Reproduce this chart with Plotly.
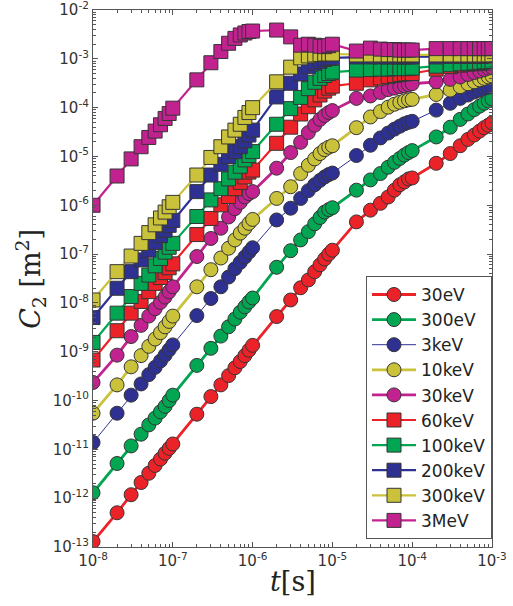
import plotly.graph_objects as go

# time points [s]
t = [1e-8, 2e-8, 3e-8, 4e-8, 5e-8, 6e-8, 7e-8, 8e-8, 9e-8,
     1e-7, 2e-7, 3e-7, 4e-7, 5e-7, 6e-7, 7e-7, 8e-7, 9e-7,
     1e-6, 2e-6, 3e-6, 4e-6, 5e-6, 6e-6, 7e-6, 8e-6, 9e-6,
     1e-5, 2e-5, 3e-5, 4e-5, 5e-5, 6e-5, 7e-5, 8e-5, 9e-5,
     1e-4, 2e-4, 3e-4, 4e-4, 5e-4, 6e-4, 7e-4, 8e-4, 9e-4,
     1e-3]

labels = ["30eV", "300eV", "3keV", "10keV", "30keV",
          "60keV", "100keV", "200keV", "300keV", "3MeV"]

# log10 of C2 [m^2]
lg_30eV = [-12.89, -12.30, -11.93, -11.68, -11.49, -11.33, -11.20, -11.08, -10.98,
           -10.89, -10.28, -9.92, -9.68, -9.49, -9.33, -9.20, -9.08, -8.97,
           -8.87, -8.28, -7.94, -7.69, -7.53, -7.36, -7.22, -7.10, -7.00,
           -6.92, -6.34, -6.10, -5.96, -5.83, -5.69, -5.58, -5.52, -5.46,
           -5.44, -5.14, -4.94, -4.78, -4.65, -4.56, -4.48, -4.41, -4.36,
           -4.31]
lg_300eV = [-11.89, -11.29, -10.93, -10.69, -10.50, -10.36, -10.23, -10.12, -10.00,
            -9.89, -9.28, -8.93, -8.68, -8.49, -8.33, -8.19, -8.08, -7.98,
            -7.90, -7.27, -6.93, -6.71, -6.54, -6.38, -6.25, -6.14, -6.09,
            -6.05, -5.69, -5.48, -5.35, -5.22, -5.12, -5.04, -4.97, -4.92,
            -4.88, -4.60, -4.40, -4.24, -4.13, -4.04, -3.97, -3.91, -3.86,
            -3.82]
lg_3keV = [-10.86, -10.26, -9.89, -9.66, -9.47, -9.32, -9.19, -9.07, -8.96,
           -8.86, -8.26, -7.91, -7.67, -7.47, -7.30, -7.17, -7.06, -6.96,
           -6.87, -6.30, -6.06, -5.86, -5.70, -5.58, -5.49, -5.42, -5.37,
           -5.34, -4.98, -4.77, -4.62, -4.52, -4.44, -4.38, -4.33, -4.30,
           -4.28, -4.05, -3.91, -3.81, -3.74, -3.68, -3.64, -3.60, -3.58,
           -3.56]
lg_10keV = [-10.26, -9.68, -9.31, -9.08, -8.89, -8.74, -8.61, -8.49, -8.38,
            -8.27, -7.67, -7.32, -7.08, -6.88, -6.71, -6.57, -6.47, -6.37,
            -6.29, -5.86, -5.62, -5.35, -5.18, -5.05, -4.94, -4.86, -4.81,
            -4.78, -4.41, -4.19, -4.08, -3.99, -3.93, -3.89, -3.86, -3.84,
            -3.83, -3.73, -3.64, -3.57, -3.51, -3.47, -3.43, -3.40, -3.37,
            -3.35]
lg_30keV = [-9.63, -9.07, -8.69, -8.46, -8.27, -8.12, -7.99, -7.88, -7.77,
            -7.67, -7.05, -6.68, -6.47, -6.24, -6.07, -5.94, -5.83, -5.76,
            -5.72, -5.24, -4.92, -4.71, -4.51, -4.36, -4.24, -4.16, -4.10,
            -4.06, -3.81, -3.76, -3.69, -3.63, -3.60, -3.57, -3.55, -3.53,
            -3.51, -3.47, -3.42, -3.37, -3.32, -3.28, -3.25, -3.22, -3.19,
            -3.17]
lg_60keV = [-9.17, -8.57, -8.21, -7.97, -7.77, -7.60, -7.48, -7.38, -7.28,
            -7.20, -6.60, -6.27, -5.99, -5.82, -5.66, -5.53, -5.42, -5.32,
            -5.28, -4.73, -4.40, -4.13, -3.98, -3.84, -3.74, -3.66, -3.60,
            -3.56, -3.50, -3.43, -3.39, -3.36, -3.34, -3.32, -3.31, -3.30,
            -3.30, -3.21, -3.16, -3.13, -3.11, -3.10, -3.09, -3.08, -3.08,
            -3.07]
lg_100keV = [-8.81, -8.21, -7.87, -7.60, -7.43, -7.24, -7.09, -6.96, -6.86,
             -6.78, -6.23, -5.89, -5.66, -5.46, -5.32, -5.20, -5.07, -4.98,
             -4.90, -4.34, -4.02, -3.79, -3.61, -3.48, -3.40, -3.34, -3.30,
             -3.27, -3.23, -3.22, -3.21, -3.21, -3.20, -3.20, -3.20, -3.20,
             -3.19, -3.15, -3.12, -3.10, -3.09, -3.08, -3.07, -3.06, -3.06,
             -3.05]
lg_200keV = [-8.30, -7.70, -7.36, -7.12, -6.92, -6.76, -6.62, -6.51, -6.41,
             -6.31, -5.72, -5.38, -5.16, -5.00, -4.90, -4.80, -4.68, -4.56,
             -4.46, -3.78, -3.50, -3.31, -3.16, -3.09, -3.05, -3.01, -2.99,
             -2.98, -2.96, -2.96, -2.96, -2.96, -2.96, -2.96, -2.96, -2.96,
             -2.96, -2.96, -2.95, -2.95, -2.95, -2.95, -2.95, -2.95, -2.95,
             -2.95]
lg_300keV = [-7.94, -7.36, -7.04, -6.78, -6.56, -6.40, -6.26, -6.14, -6.03,
             -5.94, -5.38, -5.02, -4.80, -4.60, -4.46, -4.34, -4.20, -4.10,
             -4.00, -3.47, -3.17, -2.98, -2.94, -2.92, -2.91, -2.90, -2.90,
             -2.90, -2.92, -2.92, -2.92, -2.92, -2.92, -2.92, -2.92, -2.92,
             -2.92, -2.92, -2.92, -2.92, -2.92, -2.92, -2.92, -2.92, -2.92,
             -2.92]
lg_3MeV = [-6.00, -5.40, -5.05, -4.80, -4.61, -4.48, -4.35, -4.22, -4.12,
           -4.01, -3.43, -3.08, -2.85, -2.68, -2.58, -2.51, -2.47, -2.44,
           -2.43, -2.41, -2.55, -2.72, -2.70, -2.72, -2.74, -2.75, -2.73,
           -2.70, -2.84, -2.78, -2.80, -2.81, -2.81, -2.82, -2.82, -2.82,
           -2.82, -2.79, -2.79, -2.79, -2.79, -2.79, -2.79, -2.79, -2.79,
           -2.79]

series = [lg_30eV, lg_300eV, lg_3keV, lg_10keV, lg_30keV,
          lg_60keV, lg_100keV, lg_200keV, lg_300keV, lg_3MeV]

x_ticks = [1e-8, 1e-7, 1e-6, 1e-5, 1e-4, 1e-3]
x_ticktext = ["10<sup>-8</sup>", "10<sup>-7</sup>", "10<sup>-6</sup>",
              "10<sup>-5</sup>", "10<sup>-4</sup>", "10<sup>-3</sup>"]
y_ticks = [1e-13, 1e-12, 1e-11, 1e-10, 1e-9, 1e-8, 1e-7, 1e-6,
           1e-5, 1e-4, 1e-3, 1e-2]
y_ticktext = ["10<sup>-13</sup>", "10<sup>-12</sup>", "10<sup>-11</sup>",
              "10<sup>-10</sup>", "10<sup>-9</sup>", "10<sup>-8</sup>",
              "10<sup>-7</sup>", "10<sup>-6</sup>", "10<sup>-5</sup>",
              "10<sup>-4</sup>", "10<sup>-3</sup>", "10<sup>-2</sup>"]

RED, GREEN, BLUE, YELLOW, MAGENTA = "#EC2229", "#00A651", "#2E3192", "#C9C23A", "#C2228F"
colors = [RED, GREEN, BLUE, YELLOW, MAGENTA, RED, GREEN, BLUE, YELLOW, MAGENTA]
symbols = ["circle"] * 5 + ["square"] * 5
widths = [2.8, 2.8, 1.0, 2.8, 2.8, 2.2, 2.2, 2.2, 2.2, 2.2]

fig = go.Figure()
for lab, lg, col, sym, w in zip(labels, series, colors, symbols, widths):
    fig.add_trace(go.Scatter(
        x=t, y=[10 ** v for v in lg], name=lab, mode="lines+markers",
        line=dict(color=col, width=w),
        marker=dict(symbol=sym, size=14, color=col,
                    line=dict(color="#353535", width=1)),
    ))

axis_common = dict(
    type="log", showgrid=False, zeroline=False, showline=True,
    linecolor="#555555", linewidth=1.2, mirror="allticks",
    ticks="inside", ticklen=5, tickcolor="#555555", tickwidth=1,
    tickmode="array", automargin=False, ticklabeloverflow="allow",
    tickfont=dict(family="DejaVu Sans", size=15, color="#333333"),
    minor=dict(ticks="inside", ticklen=3, tickcolor="#555555", dtick="D1"),
)

fig.update_layout(
    width=513, height=606,
    margin=dict(l=93, r=21, t=10, b=59),
    paper_bgcolor="white", plot_bgcolor="white",
    xaxis=dict(range=[-8.0005, -2.9995], tickvals=x_ticks, ticktext=x_ticktext,
               **axis_common),
    yaxis=dict(range=[-13.001, -1.999], tickvals=y_ticks, ticktext=y_ticktext,
               **axis_common),
    legend=dict(x=1, y=0.015, xanchor="right", yanchor="bottom",
                bgcolor="white", bordercolor="#555555", borderwidth=1,
                font=dict(family="DejaVu Sans", size=17, color="#222222"),
                itemwidth=44),
    showlegend=True,
    annotations=[
        dict(text="<i>t</i>[s]", xref="paper", yref="paper", x=0.5, y=-0.064,
             xanchor="center", yanchor="middle", showarrow=False,
             font=dict(family="DejaVu Serif", size=27, color="#222222")),
        dict(text="<i>C</i><sub>2</sub> [m<sup>2</sup>]", xref="paper", yref="paper",
             x=-0.157, y=0.50, xanchor="center", yanchor="middle", showarrow=False,
             textangle=-90,
             font=dict(family="DejaVu Serif", size=27, color="#222222")),
    ],
)

# remove the default page margin so the figure fills the 513x606 window exactly
fig.write_html("out.html",
               config={"displayModeBar": False},
               post_script="document.body.style.margin='0px';")
